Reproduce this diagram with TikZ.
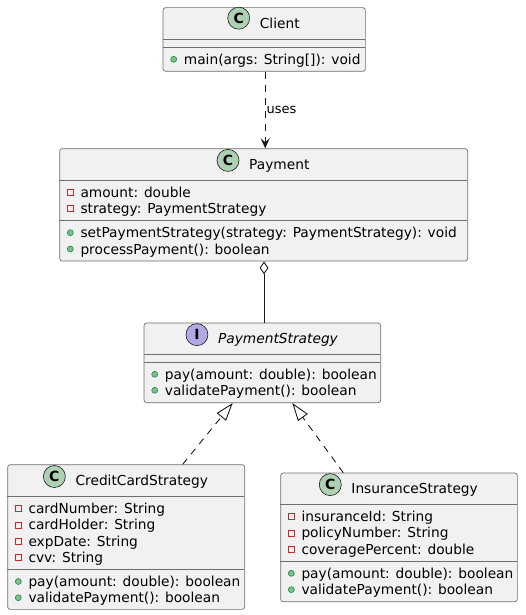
\documentclass[tikz,border=0pt]{standalone}
\usepackage{fontspec}
\setmainfont{DejaVu Sans}
\usetikzlibrary{arrows.meta,calc}
\definecolor{boxfill}{HTML}{F1F1F1}
\definecolor{boxline}{HTML}{6E6E6E}
\definecolor{linkc}{HTML}{181818}
\definecolor{cfill}{HTML}{ADD1B2}
\definecolor{ifill}{HTML}{B4A7E5}
\definecolor{privc}{HTML}{C82930}
\definecolor{pubfill}{HTML}{84BE84}
\definecolor{publine}{HTML}{038048}
\newcommand{\umlfont}{\fontsize{13.75}{16}\selectfont}
\newcommand{\pubm}[3]{% x y text (x=box left, y=center)
  \draw[publine,fill=pubfill,line width=0.5pt] (#1+11,#2) circle (3pt);
  \node[member] at (#1+21,#2+5) {#3};}
\newcommand{\privm}[3]{%
  \draw[privc,line width=0.8pt] (#1+8,#2-3) rectangle (#1+14,#2+3);
  \node[member] at (#1+21,#2+5) {#3};}
\begin{document}
\begin{tikzpicture}[x=1pt,y=-1pt,
  classbox/.style={draw=boxline,fill=boxfill,line width=0.7pt,rounded corners=2.5pt,
    anchor=north west,inner sep=0pt},
  sepline/.style={draw=boxline,line width=0.7pt},
  member/.style={anchor=base west,inner sep=0pt,font=\umlfont,text=black},
  titletext/.style={anchor=base,inner sep=0pt,font=\umlfont,text=black},
  spot/.style={circle,draw=linkc,line width=0.6pt,minimum size=22pt,inner sep=0pt,
    font=\fontsize{14}{16}\selectfont\bfseries},
  linkline/.style={draw=linkc,line width=0.9pt},
  dashedlink/.style={linkline,dash pattern=on 7pt off 6pt},
]
\useasboundingbox (0,0) rectangle (525,615);

% ---------- Client ----------
\node[classbox,minimum width=202.3pt,minimum height=63.7pt] (client) at (162.7,7.3) {};
\draw[sepline] (162.7,39.3) -- (365,39.3);
\draw[sepline] (162.7,47) -- (365,47);
\node[titletext] (clientT) at (279.8,28.3) {Client};
\node[spot,fill=cfill] (clientS) at ($(clientT.west)+(-21,-5)$) {C};
\pubm{162.7}{59.3}{main(args: String[]): void}

% ---------- Payment ----------
\node[classbox,minimum width=408pt,minimum height=112.4pt] (payment) at (59.3,148.3) {};
\draw[sepline] (59.3,180.7) -- (467.3,180.7);
\draw[sepline] (59.3,220.7) -- (467.3,220.7);
\node[titletext] (paymentT) at (279.3,169) {Payment};
\node[spot,fill=cfill] (paymentS) at ($(paymentT.west)+(-21,-5)$) {C};
\privm{59.3}{192.3}{amount: double}
\privm{59.3}{208.5}{strategy: PaymentStrategy}
\pubm{59.3}{232.7}{setPaymentStrategy(strategy: PaymentStrategy): void}
\pubm{59.3}{249}{processPayment(): boolean}

% ---------- PaymentStrategy ----------
\node[classbox,minimum width=236.6pt,minimum height=79.6pt] (ps) at (143.7,322.7) {};
\draw[sepline] (143.7,354.3) -- (380.3,354.3);
\draw[sepline] (143.7,362.3) -- (380.3,362.3);
\node[titletext,font=\umlfont\itshape] (psT) at (278,343.3) {PaymentStrategy};
\node[spot,fill=ifill] (psS) at ($(psT.west)+(-21,-5)$) {I};
\pubm{143.7}{374.3}{pay(amount: double): boolean}
\pubm{143.7}{390.3}{validatePayment(): boolean}

% ---------- CreditCardStrategy ----------
\node[classbox,minimum width=237pt,minimum height=144.7pt] (ccs) at (7.3,464.3) {};
\draw[sepline] (7.3,496) -- (244.3,496);
\draw[sepline] (7.3,569.3) -- (244.3,569.3);
\node[titletext] (ccsT) at (141.8,485.3) {CreditCardStrategy};
\node[spot,fill=cfill] (ccsS) at ($(ccsT.west)+(-21,-5)$) {C};
\privm{7.3}{508.7}{cardNumber: String}
\privm{7.3}{524.9}{cardHolder: String}
\privm{7.3}{541.1}{expDate: String}
\privm{7.3}{557.3}{cvv: String}
\pubm{7.3}{581.5}{pay(amount: double): boolean}
\pubm{7.3}{597.7}{validatePayment(): boolean}

% ---------- InsuranceStrategy ----------
\node[classbox,minimum width=236.7pt,minimum height=128.6pt] (ins) at (280.3,472.7) {};
\draw[sepline] (280.3,504.3) -- (517,504.3);
\draw[sepline] (280.3,561.3) -- (517,561.3);
\node[titletext] (insT) at (414.65,493.3) {InsuranceStrategy};
\node[spot,fill=cfill] (insS) at ($(insT.west)+(-21,-5)$) {C};
\privm{280.3}{516.7}{insuranceId: String}
\privm{280.3}{532.9}{policyNumber: String}
\privm{280.3}{549.1}{coveragePercent: double}
\pubm{280.3}{573.3}{pay(amount: double): boolean}
\pubm{280.3}{589.6}{validatePayment(): boolean}

% ---------- connectors ----------
\draw[dashedlink,-{Stealth[length=10pt,width=9pt,inset=4pt]}]
  ([xshift=1pt]client.south) -- ([xshift=1pt]client.south |- payment.north)
  node[pos=0.5,right=1pt,inner sep=0pt,font=\fontsize{13}{15}\selectfont,text=black] {uses};
\draw[linkline,{Diamond[open,length=13pt,width=8.7pt]}-]
  ([xshift=0.4pt]payment.south) -- ([xshift=0.4pt]payment.south |- ps.north);
\draw[dashedlink,-{Triangle[open,length=18pt,width=12pt]}]
  ([xshift=175.4pt]ccs.north west) -- ([xshift=89pt]ps.south west);
\draw[dashedlink,-{Triangle[open,length=18pt,width=12pt]}]
  ([xshift=63pt]ins.north west) -- ([xshift=148.6pt]ps.south west);
\end{tikzpicture}
\end{document}
